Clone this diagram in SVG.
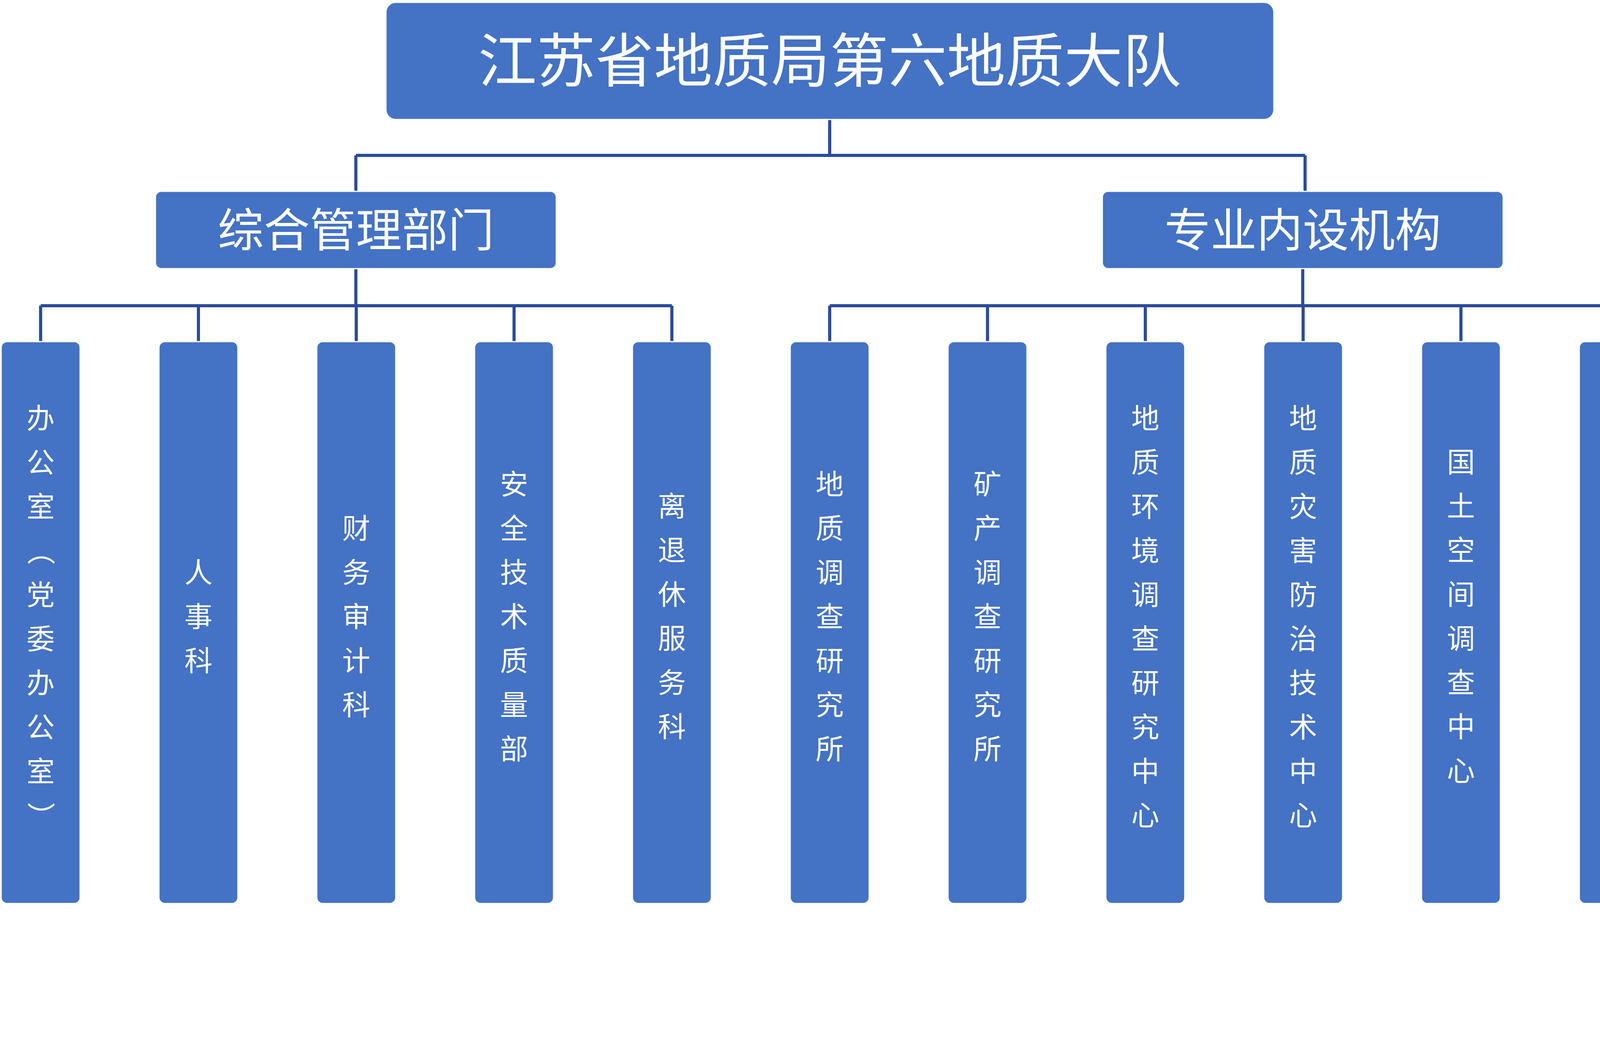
<svg xmlns="http://www.w3.org/2000/svg" width="4652" height="2720" viewBox="0 0 4652 2720">
<style>
.box{fill:#4472C4;stroke:#ffffff;stroke-width:3}
.t{fill:#ffffff;font-family:"Noto Sans CJK SC","Liberation Sans",sans-serif;text-anchor:middle}
.l{font-size:72px}
.c{fill:none;stroke:#2B4C9B;stroke-width:8}
</style>
<rect width="4652" height="2720" fill="#ffffff"/>
<g id="connectors">
<path class="c" d="M2124 306V398M911 398H3341M911 398V490M3341 398V490"/>
<path class="c" d="M911 688V783M104 783H1720M104 783V875M508 783V875M912 783V875M1316 783V875M1720 783V875"/>
<path class="c" d="M3335 688V783M2124 783H4548M2124 783V875M2528 783V875M2932 783V875M3336 783V875M3740 783V875M4144 783V875M4548 783V875"/>
</g>
<g id="root"><rect class="box" x="988" y="6" width="2273" height="300" rx="25"/><text class="t" x="2124" y="210" font-size="150">江苏省地质局第六地质大队</text></g>
<g id="mgmt"><rect class="box" x="398" y="490" width="1026" height="198" rx="15"/><text class="t" x="911" y="632" font-size="118">综合管理部门</text></g>
<g id="prof"><rect class="box" x="2822" y="490" width="1026" height="198" rx="15"/><text class="t" x="3335" y="632" font-size="118">专业内设机构</text></g>
<g id="n0"><rect class="box" x="3" y="875" width="202" height="1439" rx="15"/>
<text class="t l"><tspan x="104" y="1097">办</tspan><tspan x="104" y="1210">公</tspan><tspan x="104" y="1323">室</tspan><tspan x="104" y="1549">党</tspan><tspan x="104" y="1662">委</tspan><tspan x="104" y="1775">办</tspan><tspan x="104" y="1888">公</tspan><tspan x="104" y="2001">室</tspan></text>
<text class="t l" transform="rotate(90 104 1411)" x="104" y="1436">（</text>
<text class="t l" transform="rotate(90 104 2090)" x="104" y="2115">）</text></g>
<g id="n1"><rect class="box" x="407" y="875" width="202" height="1439" rx="15"/><text class="t l"><tspan x="508" y="1492">人</tspan><tspan x="508" y="1605">事</tspan><tspan x="508" y="1718">科</tspan></text></g>
<g id="n2"><rect class="box" x="811" y="875" width="202" height="1439" rx="15"/><text class="t l"><tspan x="912" y="1379">财</tspan><tspan x="912" y="1492">务</tspan><tspan x="912" y="1605">审</tspan><tspan x="912" y="1718">计</tspan><tspan x="912" y="1831">科</tspan></text></g>
<g id="n3"><rect class="box" x="1215" y="875" width="202" height="1439" rx="15"/><text class="t l"><tspan x="1316" y="1266">安</tspan><tspan x="1316" y="1379">全</tspan><tspan x="1316" y="1492">技</tspan><tspan x="1316" y="1605">术</tspan><tspan x="1316" y="1718">质</tspan><tspan x="1316" y="1831">量</tspan><tspan x="1316" y="1944">部</tspan></text></g>
<g id="n4"><rect class="box" x="1619" y="875" width="202" height="1439" rx="15"/><text class="t l"><tspan x="1720" y="1322">离</tspan><tspan x="1720" y="1435">退</tspan><tspan x="1720" y="1548">休</tspan><tspan x="1720" y="1661">服</tspan><tspan x="1720" y="1774">务</tspan><tspan x="1720" y="1887">科</tspan></text></g>
<g id="n5"><rect class="box" x="2023" y="875" width="202" height="1439" rx="15"/><text class="t l"><tspan x="2124" y="1266">地</tspan><tspan x="2124" y="1379">质</tspan><tspan x="2124" y="1492">调</tspan><tspan x="2124" y="1605">查</tspan><tspan x="2124" y="1718">研</tspan><tspan x="2124" y="1831">究</tspan><tspan x="2124" y="1944">所</tspan></text></g>
<g id="n6"><rect class="box" x="2427" y="875" width="202" height="1439" rx="15"/><text class="t l"><tspan x="2528" y="1266">矿</tspan><tspan x="2528" y="1379">产</tspan><tspan x="2528" y="1492">调</tspan><tspan x="2528" y="1605">查</tspan><tspan x="2528" y="1718">研</tspan><tspan x="2528" y="1831">究</tspan><tspan x="2528" y="1944">所</tspan></text></g>
<g id="n7"><rect class="box" x="2831" y="875" width="202" height="1439" rx="15"/><text class="t l"><tspan x="2932" y="1097">地</tspan><tspan x="2932" y="1210">质</tspan><tspan x="2932" y="1323">环</tspan><tspan x="2932" y="1436">境</tspan><tspan x="2932" y="1549">调</tspan><tspan x="2932" y="1662">查</tspan><tspan x="2932" y="1775">研</tspan><tspan x="2932" y="1888">究</tspan><tspan x="2932" y="2001">中</tspan><tspan x="2932" y="2114">心</tspan></text></g>
<g id="n8"><rect class="box" x="3235" y="875" width="202" height="1439" rx="15"/><text class="t l"><tspan x="3336" y="1097">地</tspan><tspan x="3336" y="1210">质</tspan><tspan x="3336" y="1323">灾</tspan><tspan x="3336" y="1436">害</tspan><tspan x="3336" y="1549">防</tspan><tspan x="3336" y="1662">治</tspan><tspan x="3336" y="1775">技</tspan><tspan x="3336" y="1888">术</tspan><tspan x="3336" y="2001">中</tspan><tspan x="3336" y="2114">心</tspan></text></g>
<g id="n9"><rect class="box" x="3639" y="875" width="202" height="1439" rx="15"/><text class="t l"><tspan x="3740" y="1209">国</tspan><tspan x="3740" y="1322">土</tspan><tspan x="3740" y="1435">空</tspan><tspan x="3740" y="1548">间</tspan><tspan x="3740" y="1661">调</tspan><tspan x="3740" y="1774">查</tspan><tspan x="3740" y="1887">中</tspan><tspan x="3740" y="2000">心</tspan></text></g>
<g id="n10"><rect class="box" x="4043" y="875" width="202" height="1439" rx="15"/><text class="t l"><tspan x="4144" y="1040">地</tspan><tspan x="4144" y="1153">质</tspan><tspan x="4144" y="1266">实</tspan><tspan x="4144" y="1379">验</tspan><tspan x="4144" y="1492">与</tspan><tspan x="4144" y="1605">科</tspan><tspan x="4144" y="1718">普</tspan><tspan x="4144" y="1831">信</tspan><tspan x="4144" y="1944">息</tspan><tspan x="4144" y="2057">中</tspan><tspan x="4144" y="2170">心</tspan></text></g>
<g id="n11"><rect class="box" x="4447" y="875" width="202" height="1439" rx="15"/><text class="t l"><tspan x="4548" y="1435">盐</tspan><tspan x="4548" y="1548">城</tspan><tspan x="4548" y="1661">分</tspan><tspan x="4548" y="1774">队</tspan></text></g>
</svg>
